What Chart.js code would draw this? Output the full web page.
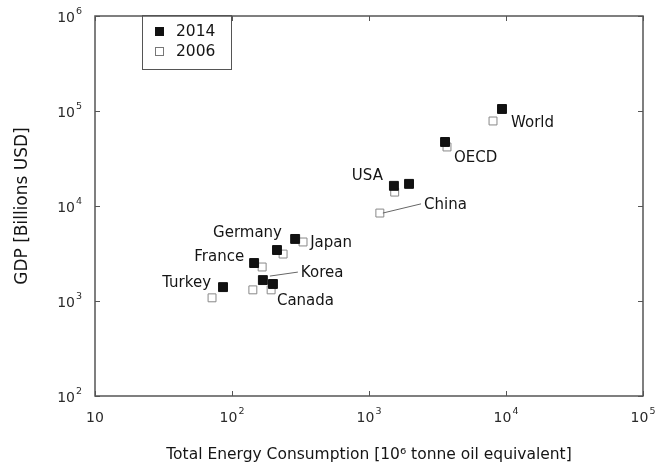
<!DOCTYPE html>
<html>
<head>
<meta charset="utf-8">
<script src="https://cdn.jsdelivr.net/npm/chart.js@4.4.0/dist/chart.umd.min.js"></script>
<style>
  html, body { margin: 0; padding: 0; background: #fff; }
  #wrap { width: 667px; height: 470px; }
</style>
</head>
<body>
<div id="wrap"><canvas id="chart" width="667" height="470"></canvas></div>
<script>
// Energy use vs GDP, 2006 and 2014
const countries = ['World', 'OECD', 'USA', 'China', 'Japan', 'Germany', 'France', 'Korea', 'Canada', 'Turkey'];
const energy2014 = [9350, 3590, 1520, 1960, 289, 213, 145, 168, 199, 86];
const gdp2014 = [105000, 47200, 16300, 17100, 4500, 3440, 2510, 1660, 1510, 1400];
const energy2006 = [8040, 3710, 1540, 1200, 330, 236, 166, 142, 193, 71.5];
const gdp2006 = [78500, 41800, 14000, 8430, 4180, 3120, 2280, 1310, 1310, 1080];
const xTicks = [10, 100, 1000, 10000, 100000];
const yTicks = [100, 1000, 10000, 100000, 1000000];

// label placement relative to the 2014 marker (pixels)
const labelStyle = {
  World:   { dx: 9,   dy: 14,  align: 'left' },
  OECD:    { dx: 9,   dy: 16,  align: 'left' },
  USA:     { dx: -11, dy: -10, align: 'right' },
  China:   { dx: 15,  dy: 21,  align: 'left', leader: { from: 1, fx: 3, fy: 0 } },
  Japan:   { dx: 15,  dy: 4,   align: 'left' },
  Germany: { dx: 5,   dy: -17, align: 'right' },
  France:  { dx: -10, dy: -6,  align: 'right' },
  Korea:   { dx: 38,  dy: -7,  align: 'left', leader: { from: 0, fx: 7, fy: -4 } },
  Canada:  { dx: 4,   dy: 17,  align: 'left' },
  Turkey:  { dx: -12, dy: -4,  align: 'right' }
};

const FONT = '"DejaVu Sans", sans-serif';

const pts = (xs, ys) => xs.map((x, i) => ({ x: x, y: ys[i] }));

// draws "10" with a raised exponent; (cx, cy) is where the label is anchored
function powerLabel(ctx, v, cx, cy, align) {
  const e = Math.round(Math.log10(v));
  ctx.font = '14px ' + FONT;
  const base = '10';
  const bw = ctx.measureText(base).width;
  ctx.font = '9.5px ' + FONT;
  const es = e === 1 ? '' : String(e);
  const ew = es ? ctx.measureText(es).width + 1 : 0;
  const total = bw + ew;
  let x0 = align === 'right' ? cx - total : cx - total / 2;
  ctx.textAlign = 'left';
  ctx.textBaseline = 'middle';
  ctx.font = '14px ' + FONT;
  ctx.fillText(base, x0, cy + 2);
  if (es) {
    ctx.font = '9.5px ' + FONT;
    ctx.fillText(es, x0 + bw + 1, cy - 4);
  }
}

const framePlugin = {
  id: 'frame',
  afterDatasetsDraw(chart) {
    const { ctx, chartArea: a, scales: { x, y } } = chart;
    ctx.save();
    ctx.strokeStyle = '#555';
    ctx.lineWidth = 1.5;
    ctx.strokeRect(a.left, a.top, a.right - a.left, a.bottom - a.top);
    ctx.lineWidth = 1;
    ctx.beginPath();
    yTicks.forEach(v => {
      const py = Math.round(y.getPixelForValue(v)) + 0.5;
      ctx.moveTo(a.left, py); ctx.lineTo(a.left + 5, py);
      ctx.moveTo(a.right, py); ctx.lineTo(a.right - 5, py);
    });
    xTicks.forEach(v => {
      const px = Math.round(x.getPixelForValue(v)) + 0.5;
      ctx.moveTo(px, a.bottom); ctx.lineTo(px, a.bottom - 5);
      ctx.moveTo(px, a.top); ctx.lineTo(px, a.top + 5);
    });
    ctx.stroke();

    // tick labels
    ctx.fillStyle = '#2a2a2a';
    yTicks.forEach(v => powerLabel(ctx, v, a.left - 13, y.getPixelForValue(v), 'right'));
    xTicks.forEach(v => powerLabel(ctx, v, x.getPixelForValue(v), a.bottom + 20, 'center'));

    // country labels and leader lines
    ctx.font = '15px ' + FONT;
    ctx.fillStyle = '#151515';
    ctx.textBaseline = 'middle';
    countries.forEach((name, i) => {
      const s = labelStyle[name];
      const px = x.getPixelForValue(energy2014[i]);
      const py = y.getPixelForValue(gdp2014[i]);
      const lx = px + s.dx, ly = py + s.dy;
      ctx.textAlign = s.align;
      ctx.fillText(name, lx, ly);
      if (s.leader) {
        const sx = s.leader.from === 1 ? x.getPixelForValue(energy2006[i]) : px;
        const sy = s.leader.from === 1 ? y.getPixelForValue(gdp2006[i]) : py;
        ctx.strokeStyle = '#666';
        ctx.beginPath();
        ctx.moveTo(sx + s.leader.fx, sy + s.leader.fy);
        ctx.lineTo(lx - 3, ly - 1);
        ctx.stroke();
      }
    });

    // legend box
    const lx0 = a.left + 47, ly0 = a.top - 1;
    ctx.strokeStyle = '#555';
    ctx.lineWidth = 1;
    ctx.strokeRect(lx0 + 0.5, ly0 + 0.5, 89, 54);
    ctx.fillStyle = '#111';
    ctx.fillRect(lx0 + 13, ly0 + 12, 9, 9);
    ctx.fillStyle = '#fff';
    ctx.strokeStyle = '#777';
    ctx.fillRect(lx0 + 13, ly0 + 32, 9, 9);
    ctx.strokeRect(lx0 + 13.5, ly0 + 32.5, 8, 8);
    ctx.fillStyle = '#151515';
    ctx.textAlign = 'left';
    ctx.font = '15.5px ' + FONT;
    ctx.fillText('2014', lx0 + 34, ly0 + 17);
    ctx.fillText('2006', lx0 + 34, ly0 + 37);
    ctx.restore();
  }
};

new Chart(document.getElementById('chart'), {
  type: 'scatter',
  data: {
    datasets: [
      {
        label: '2014',
        data: pts(energy2014, gdp2014),
        pointStyle: 'rect',
        pointRadius: 6.3,
        backgroundColor: '#111',
        borderColor: '#111',
        borderWidth: 1
      },
      {
        label: '2006',
        data: pts(energy2006, gdp2006),
        pointStyle: 'rect',
        pointRadius: 5.6,
        backgroundColor: '#fff',
        borderColor: '#888',
        borderWidth: 1
      }
    ]
  },
  options: {
    responsive: false,
    animation: false,
    layout: { padding: { left: 0, right: 24, top: 16, bottom: 0 } },
    plugins: { legend: { display: false }, tooltip: { enabled: false } },
    scales: {
      x: {
        type: 'logarithmic',
        min: 10,
        max: 100000,
        afterBuildTicks: s => { s.ticks = xTicks.map(v => ({ value: v })); },
        afterFit: s => { s.height = 74; },
        grid: { display: false, drawTicks: false },
        border: { display: false },
        ticks: { display: false },
        title: {
          display: true,
          text: 'Total Energy Consumption [10\u2076 tonne oil equivalent]',
          color: '#151515',
          font: { family: FONT, size: 15.5 },
          padding: { top: 0, bottom: 6 }
        }
      },
      y: {
        type: 'logarithmic',
        min: 100,
        max: 1000000,
        afterBuildTicks: s => { s.ticks = yTicks.map(v => ({ value: v })); },
        afterFit: s => { s.width = 95; },
        grid: { display: false, drawTicks: false },
        border: { display: false },
        ticks: { display: false },
        title: {
          display: true,
          text: 'GDP [Billions USD]',
          color: '#151515',
          font: { family: FONT, size: 17 },
          padding: { top: 12, bottom: 0 }
        }
      }
    }
  },
  plugins: [framePlugin]
});
</script>
</body>
</html>
